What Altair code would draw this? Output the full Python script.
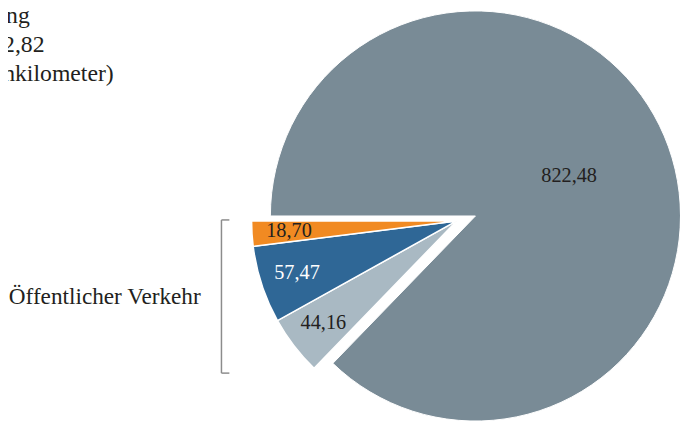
import math
import altair as alt
import pandas as pd

# ---- data ----
categories = ["Öffentlicher Verkehr (Bus/Bahn)", "Öffentlicher Verkehr (Schiene)", "Öffentlicher Verkehr (Luft)", "Motorisierter Individualverkehr"]
values = [44.16, 57.47, 18.70, 822.48]
labels = ["44,16", "57,47", "18,70", "822,48"]
groups = ["oev", "oev", "oev", "miv"]
colors = ["#A9B9C3", "#2F6796", "#F18A22", "#798B96"]
label_colors = ["#231F20", "#FFFFFF", "#231F20", "#231F20"]
title_lines = ["Verkehrsleistung", "Insgesamt 942,82", "(Milliarden Personenkilometer)"]
bracket_label = "Öffentlicher Verkehr"

total = sum(values)
small_sum = sum(v for v, g in zip(values, groups) if g == "oev")
offset = 1.5 * math.pi - 2 * math.pi * small_sum / total
starts, ends = [], []
cum = 0.0
for v in values:
    starts.append(offset + 2 * math.pi * cum / total)
    cum += v
    ends.append(offset + 2 * math.pi * cum / total)

df = pd.DataFrame({
    "cat": categories, "value": values, "label": labels, "group": groups,
    "color": colors, "lcolor": label_colors, "t0": starts, "t1": ends,
})
df["tm"] = (df["t0"] + df["t1"]) / 2

CX, CY, R = 473, 208, 207.5
DX, DY = -19, 5
FONT = "Liberation Serif"

base = alt.Chart(df)

main_arc = base.transform_filter(alt.datum.group == "miv").mark_arc(
    radius=R, stroke="white", strokeWidth=1
).encode(
    theta=alt.Theta("t0:Q", scale=None),
    theta2="t1:Q",
    color=alt.Color("color:N", scale=None),
    x=alt.value(CX), y=alt.value(CY),
)

small_arc = base.transform_filter(alt.datum.group == "oev").mark_arc(
    radius=R, stroke="white", strokeWidth=1.5
).encode(
    theta=alt.Theta("t0:Q", scale=None),
    theta2="t1:Q",
    color=alt.Color("color:N", scale=None),
    x=alt.value(CX + DX), y=alt.value(CY + DY),
)

main_lbl = base.transform_filter(alt.datum.group == "miv").mark_text(
    font=FONT, fontSize=20.5, align="center", baseline="middle"
).encode(
    theta=alt.Theta("tm:Q", scale=None),
    radius=alt.value(103),
    text="label:N",
    color=alt.Color("lcolor:N", scale=None),
    x=alt.value(CX), y=alt.value(CY),
)

small_lbl = base.transform_filter(alt.datum.group == "oev").mark_text(
    font=FONT, fontSize=20.5, align="center", baseline="middle"
).encode(
    theta=alt.Theta("tm:Q", scale=None),
    radius=alt.value(170),
    text="label:N",
    color=alt.Color("lcolor:N", scale=None),
    x=alt.value(CX + DX), y=alt.value(CY + DY),
)

# title lines (partly outside the visible area on the left, as in the reference)
title_df = pd.DataFrame({"t": title_lines, "i": [0, 1, 2]})
title_ends = [30 - 8, 45 - 8, 115 - 8]
title_layers = []
for i, t in enumerate(title_lines):
    title_layers.append(
        alt.Chart(title_df).transform_filter(alt.datum.i == i).mark_text(
            font=FONT, fontSize=24, align="right", baseline="alphabetic", color="#231F20"
        ).encode(text="t:N", x=alt.value(title_ends[i]), y=alt.value(13 + 29 * i))
    )

# bracket grouping the public transport slices
bx, by0, by1 = 216, 212, 367
bracket_v = alt.Chart(title_df).transform_filter(alt.datum.i == 0).mark_rule(
    color="#8C8C8C", strokeWidth=1.5
).encode(x=alt.value(bx), y=alt.value(by0), y2=alt.value(by1))
bracket_t = alt.Chart(title_df).transform_filter(alt.datum.i == 0).mark_rule(
    color="#8C8C8C", strokeWidth=1.5
).encode(x=alt.value(bx), x2=alt.value(bx + 8), y=alt.value(by0))
bracket_b = alt.Chart(title_df).transform_filter(alt.datum.i == 0).mark_rule(
    color="#8C8C8C", strokeWidth=1.5
).encode(x=alt.value(bx), x2=alt.value(bx + 8), y=alt.value(by1))
bracket_lbl = alt.Chart(pd.DataFrame({"t": [bracket_label]})).mark_text(
    font=FONT, fontSize=23.5, align="right", baseline="middle", color="#231F20"
).encode(text="t:N", x=alt.value(203 - 8), y=alt.value(290))

chart = alt.layer(
    main_arc, small_arc, main_lbl, small_lbl,
    *title_layers, bracket_v, bracket_t, bracket_b, bracket_lbl
).properties(
    width=680, height=413, autosize=alt.AutoSizeParams(type="none"), padding=0
).configure_view(stroke=None)

chart.save("out.html", embed_options={"renderer": "svg", "actions": False})
